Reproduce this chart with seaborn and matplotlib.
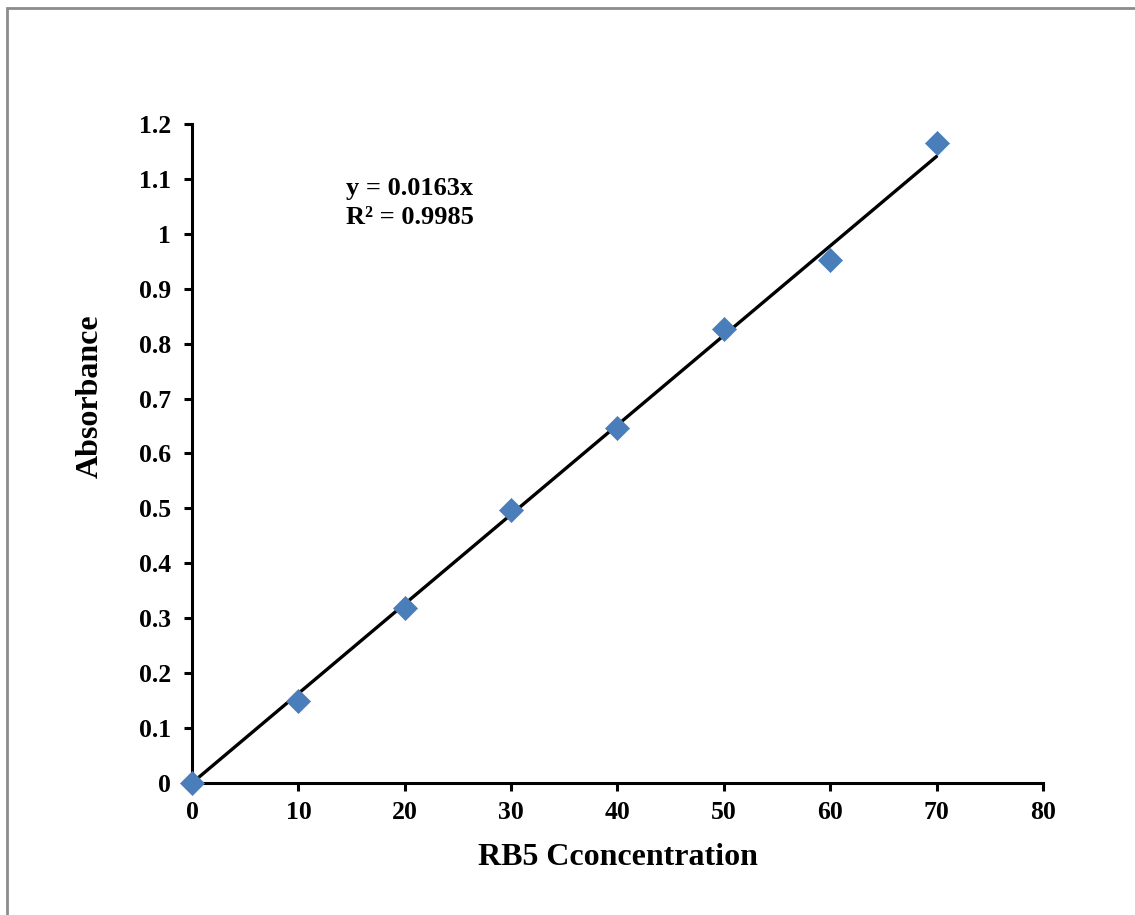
import numpy as np
import pandas as pd
import seaborn as sns
import matplotlib.pyplot as plt
from matplotlib.patches import Rectangle
from matplotlib.ticker import FuncFormatter

# Calibration data for RB5 dye
concentration = [0, 10, 20, 30, 40, 50, 60, 70]
absorbance = [0.0, 0.149, 0.319, 0.497, 0.647, 0.826, 0.952, 1.166]

# Linear fit through the origin
slope = 0.0163
r_squared = 0.9985
fit_x = [0, 70]

x_ticks = [0, 10, 20, 30, 40, 50, 60, 70, 80]
y_ticks = [0, 0.1, 0.2, 0.3, 0.4, 0.5, 0.6, 0.7, 0.8, 0.9, 1.0, 1.1, 1.2]

sns.set_style("ticks")
plt.rcParams['font.family'] = ['Liberation Serif', 'DejaVu Serif']
plt.rcParams['font.weight'] = 'bold'
plt.rcParams['text.color'] = 'black'
plt.rcParams['axes.labelcolor'] = 'black'

fig = plt.figure(figsize=(11.35, 9.15), dpi=100)
ax = fig.add_axes([0.1692, 0.1443, 0.7497, 0.7202])

# Chart area frame
fig.patches.append(Rectangle((0.0066, -0.05), 1.2, 1.0410, transform=fig.transFigure,
                             fill=False, edgecolor='#8c8c8c', linewidth=2.0, zorder=0))

df = pd.DataFrame({"conc": concentration, "abs": absorbance})
fit_df = pd.DataFrame({"conc": fit_x, "abs": [slope * v for v in fit_x]})

sns.lineplot(data=fit_df, x="conc", y="abs", ax=ax, color='black', linewidth=2.4, zorder=2)
sns.scatterplot(data=df, x="conc", y="abs", ax=ax, marker='D', s=150, color='#4a7ebb',
                edgecolor='#4a7ebb', linewidth=0.5, zorder=3, clip_on=False)

ax.set_xlim(0, 80)
ax.set_ylim(0, 1.2)
ax.set_xticks(x_ticks)
ax.set_yticks(y_ticks)
ax.yaxis.set_major_formatter(FuncFormatter(lambda v, p: f"{v:g}"))

for side in ('top', 'right'):
    ax.spines[side].set_visible(False)
for side in ('left', 'bottom'):
    ax.spines[side].set_linewidth(2.2)
    ax.spines[side].set_color('black')

ax.tick_params(axis='both', direction='out', length=6, width=2.2, labelsize=18.5,
               colors='black')
ax.tick_params(axis='y', pad=9)
ax.tick_params(axis='x', pad=7)
for lbl in ax.get_xticklabels() + ax.get_yticklabels():
    lbl.set_fontweight('bold')

ax.set_xlabel("RB5 Cconcentration", fontsize=23, fontweight='bold', labelpad=14)
ax.set_ylabel("Absorbance", fontsize=23, fontweight='bold', labelpad=16)
ax.yaxis.set_label_coords(-0.102, 0.587)

ax.text(14.5, 1.104, f"y = {slope}x\nR² = {r_squared}", fontsize=19, fontweight='bold',
        va='top', ha='left', linespacing=1.35)

fig.savefig("out.png", dpi=100, facecolor='white')
